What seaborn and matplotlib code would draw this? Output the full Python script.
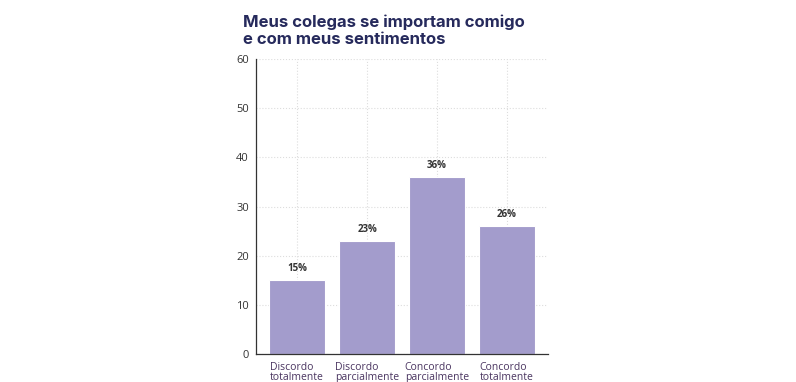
import matplotlib
matplotlib.use('Agg')
import matplotlib.pyplot as plt
import seaborn as sns
import pandas as pd

categories = ['Discordo\ntotalmente', 'Discordo\nparcialmente',
              'Concordo\nparcialmente', 'Concordo\ntotalmente']
values = [15, 23, 36, 26]
labels = ['15%', '23%', '36%', '26%']

sns.set_style('white')
plt.rcParams['font.family'] = ['Open Sans', 'DejaVu Sans']

df = pd.DataFrame({'cat': categories, 'val': values})

fig = plt.figure(figsize=(7.96, 3.82), dpi=100)
ax = fig.add_axes([0.3216, 0.0733, 0.3668, 0.7722])
sns.barplot(data=df, x='cat', y='val', color='#a39ccc', saturation=1,
            width=0.8, edgecolor='white', linewidth=0.8, ax=ax, zorder=2)

ax.set_ylim(0, 60)
ax.set_xlim(-0.59, 3.59)
ax.set_yticks(range(0, 61, 10))
ax.set_xlabel('')
ax.set_ylabel('')
ax.grid(True, color='#dddddd', linestyle=':', linewidth=0.8, zorder=0)
ax.set_axisbelow(True)
for s in ['top', 'right']:
    ax.spines[s].set_visible(False)
for s in ['left', 'bottom']:
    ax.spines[s].set_color('#333333')
    ax.spines[s].set_linewidth(0.9)
ax.tick_params(axis='y', labelsize=8, colors='#333333', length=3, pad=2)
ax.tick_params(axis='x', labelsize=7.5, labelcolor='#4a3560', color='#333333',
               length=3, pad=2.5)
for t in ax.get_xticklabels():
    t.set_multialignment('left')
    t.set_linespacing(0.95)

for i, (v, lab) in enumerate(zip(values, labels)):
    ax.text(i, v + 1.3, lab, ha='center', va='bottom', fontsize=7,
            fontweight='bold', color='#333333')

fig.text(0.305, 0.962, 'Meus colegas se importam comigo\ne com meus sentimentos',
         ha='left', va='top', fontsize=12, fontweight='bold',
         family=['Inter', 'DejaVu Sans'], color='#262a5c', linespacing=1.2)

fig.savefig('out.png', dpi=100)
